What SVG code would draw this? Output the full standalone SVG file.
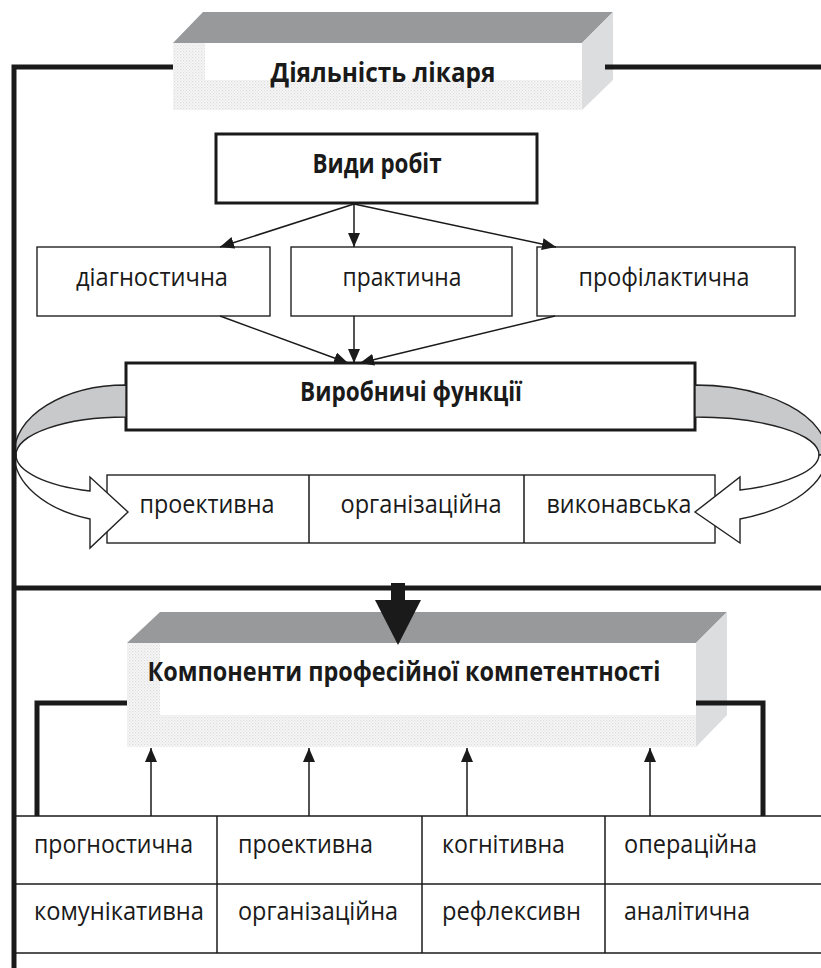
<svg xmlns="http://www.w3.org/2000/svg" width="821" height="968" viewBox="0 0 821 968">
<defs>
<pattern id="dots" width="3" height="3" patternUnits="userSpaceOnUse">
<rect width="3" height="3" fill="#f7f7f7"/>
<rect width="1.2" height="1.2" fill="#dcdcdc"/>
<rect x="1.5" y="1.5" width="1.2" height="1.2" fill="#e4e4e4"/>
</pattern>
<marker id="ah" viewBox="0 0 14 12" refX="14" refY="6" markerWidth="14" markerHeight="12" markerUnits="userSpaceOnUse" orient="auto">
<path d="M0,0 L14,6 L0,12 z" fill="#1a1a1a"/>
</marker>
<style>
.t{font-family:"Open Sans","Liberation Sans",sans-serif;font-size:26px;fill:#1a1a1a}
.b{font-family:"Open Sans","Liberation Sans",sans-serif;font-size:26px;font-weight:bold;fill:#1a1a1a}
.thin{fill:#fff;stroke:#222;stroke-width:1.4}
.thick{fill:#fff;stroke:#1a1a1a;stroke-width:3}
.topf{fill:#98999b}
.side{fill:#dcdddf}
.dot{fill:url(#dots)}
.heavy{fill:none;stroke:#1a1a1a;stroke-width:5}
.conn{fill:none;stroke:#1a1a1a;stroke-width:1.5}
.curv{stroke:#222;stroke-width:1.4}
</style>
</defs>

<g id="doctor-activity">
<polygon class="topf" points="173,43 203,12 613,12 582,43"/>
<polygon class="side" points="582,43 613,12 613,80 582,110"/>
<rect x="173" y="43" width="409" height="67" fill="#fff"/>
<rect class="dot" x="173" y="43" width="32" height="67"/>
<polygon class="dot" points="205,80 582,80 582,110 173,110"/>
<text class="b" x="383" y="82" text-anchor="middle" textLength="225" lengthAdjust="spacingAndGlyphs">Діяльність лікаря</text>
</g>

<g id="work-types">
<rect class="thick" x="216" y="134" width="321" height="69"/>
<text class="b" x="377" y="173" text-anchor="middle" textLength="129" lengthAdjust="spacingAndGlyphs">Види робіт</text>
</g>

<g id="diagnostic">
<rect class="thin" x="37" y="247" width="233" height="69"/>
<text class="t" x="152" y="286" text-anchor="middle" textLength="152" lengthAdjust="spacingAndGlyphs">діагностична</text>
</g>
<g id="practical">
<rect class="thin" x="291" y="247" width="221" height="69"/>
<text class="t" x="402" y="286" text-anchor="middle" textLength="119" lengthAdjust="spacingAndGlyphs">практична</text>
</g>
<g id="preventive">
<rect class="thin" x="537" y="247" width="258" height="69"/>
<text class="t" x="664" y="286" text-anchor="middle" textLength="171" lengthAdjust="spacingAndGlyphs">профілактична</text>
</g>

<g id="production-functions">
<rect class="thick" x="126" y="363" width="569" height="67"/>
<text class="b" x="411" y="401" text-anchor="middle" textLength="222" lengthAdjust="spacingAndGlyphs">Виробничі функції</text>
</g>

<g id="functions-row">
<rect class="thin" x="107" y="475" width="608" height="68"/>
<line class="conn" x1="309" y1="475" x2="309" y2="543" stroke-width="1.4"/>
<line class="conn" x1="524" y1="475" x2="524" y2="543" stroke-width="1.4"/>
<text class="t" x="207" y="513" text-anchor="middle" textLength="135" lengthAdjust="spacingAndGlyphs">проективна</text>
<text class="t" x="421" y="513" text-anchor="middle" textLength="161" lengthAdjust="spacingAndGlyphs">організаційна</text>
<text class="t" x="619" y="513" text-anchor="middle" textLength="145" lengthAdjust="spacingAndGlyphs">виконавська</text>
</g>

<g id="competence-components">
<polygon class="topf" points="127,643 160,612 727,612 696,643"/>
<polygon class="side" points="696,643 727,612 727,715 696,747"/>
<rect x="127" y="643" width="569" height="104" fill="#fff"/>
<rect class="dot" x="127" y="643" width="33" height="104"/>
<polygon class="dot" points="160,715 696,715 696,747 127,747"/>
<text class="b" x="404" y="681" text-anchor="middle" textLength="513" lengthAdjust="spacingAndGlyphs">Компоненти професійної компетентності</text>
</g>

<g id="components-table">
<line class="conn" x1="14" y1="816" x2="821" y2="816" stroke-width="1.4"/>
<line class="conn" x1="14" y1="884" x2="821" y2="884" stroke-width="1.4"/>
<line class="conn" x1="14" y1="953" x2="821" y2="953" stroke-width="1.4"/>
<line class="conn" x1="217" y1="816" x2="217" y2="953" stroke-width="1.4"/>
<line class="conn" x1="422" y1="816" x2="422" y2="953" stroke-width="1.4"/>
<line class="conn" x1="605" y1="816" x2="605" y2="953" stroke-width="1.4"/>
<text class="t" x="34" y="853" textLength="159" lengthAdjust="spacingAndGlyphs">прогностична</text>
<text class="t" x="238" y="853" textLength="135" lengthAdjust="spacingAndGlyphs">проективна</text>
<text class="t" x="442" y="853" textLength="123" lengthAdjust="spacingAndGlyphs">когнітивна</text>
<text class="t" x="624" y="853" textLength="133" lengthAdjust="spacingAndGlyphs">операційна</text>
<text class="t" x="34" y="920" textLength="170" lengthAdjust="spacingAndGlyphs">комунікативна</text>
<text class="t" x="238" y="920" textLength="160" lengthAdjust="spacingAndGlyphs">організаційна</text>
<text class="t" x="442" y="920" textLength="139" lengthAdjust="spacingAndGlyphs">рефлексивн</text>
<text class="t" x="624" y="920" textLength="126" lengthAdjust="spacingAndGlyphs">аналітична</text>
</g>

<g id="connectors">
<line class="conn" x1="354" y1="204" x2="220" y2="247" marker-end="url(#ah)"/>
<line class="conn" x1="354" y1="204" x2="354" y2="247" marker-end="url(#ah)"/>
<line class="conn" x1="354" y1="204" x2="556" y2="247" marker-end="url(#ah)"/>
<line class="conn" x1="220" y1="316" x2="348" y2="363" marker-end="url(#ah)"/>
<line class="conn" x1="354" y1="316" x2="354" y2="363" marker-end="url(#ah)"/>
<line class="conn" x1="555" y1="316" x2="360" y2="363" marker-end="url(#ah)"/>

<path class="curv" fill="#c8c9cb" d="M126,385 A112,69 0 0 0 14,454 L16,455 A110,38 0 0 1 126,417 Z"/>
<path class="curv" fill="#fff" d="M14,454 A112,69 0 0 0 90,519 L90,548 L128,512 L90,477 L90,491 A110,38 0 0 1 16,455 Z"/>
<path class="curv" fill="#c8c9cb" d="M695,385 A132,69 0 0 1 827,454 L819,455 A124,38 0 0 0 695,417 Z"/>
<path class="curv" fill="#fff" d="M827,454 A132,69 0 0 1 740,519 L740,543 L695,512 L740,477 L740,490 A124,38 0 0 0 819,455 Z"/>

<polyline class="heavy" points="173,67 14,67 14,968"/>
<line class="heavy" x1="605" y1="67" x2="821" y2="67"/>
<line class="heavy" x1="14" y1="588" x2="821" y2="588"/>
<rect x="391" y="583" width="14" height="18" fill="#1a1a1a"/>
<polygon points="375,600 421,600 398,645" fill="#1a1a1a"/>

<polyline class="heavy" points="127,703 37,703 37,816"/>
<polyline class="heavy" points="696,703 763,703 763,816"/>
<line class="conn" x1="151" y1="816" x2="151" y2="748" marker-end="url(#ah)"/>
<line class="conn" x1="309" y1="816" x2="309" y2="748" marker-end="url(#ah)"/>
<line class="conn" x1="467" y1="816" x2="467" y2="748" marker-end="url(#ah)"/>
<line class="conn" x1="650" y1="816" x2="650" y2="748" marker-end="url(#ah)"/>
</g>
</svg>
